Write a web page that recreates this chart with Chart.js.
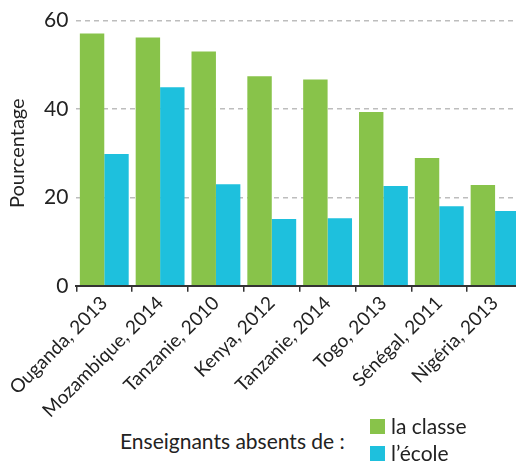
<!DOCTYPE html>
<html>
<head>
<meta charset="utf-8">
<script src="https://cdn.jsdelivr.net/npm/chart.js@4"></script>
<style>
  html, body { margin: 0; padding: 0; background: #fff; overflow: hidden; width: 516px; height: 466px; }
  #wrap { position: relative; width: 525px; height: 422px; }
  #legende { position: absolute; left: 120px; top: 414px; font-family: Lato, sans-serif; font-size: 21px; color: #222; }
  #legende .titre { position: absolute; left: 0; top: 14px; white-space: nowrap; }
  #legende .item { position: absolute; left: 250px; white-space: nowrap; line-height: 24px; }
  #legende .item span { display: inline-block; width: 15px; height: 15px; margin-right: 6px; vertical-align: 0px; }
</style>
</head>
<body>
<div id="wrap"><canvas id="graphique" width="525" height="422"></canvas></div>
<div id="legende"></div>
<script>
// Données
const pays = ['Ouganda, 2013', 'Mozambique, 2014', 'Tanzanie, 2010', 'Kenya, 2012', 'Tanzanie, 2014', 'Togo, 2013', 'Sénégal, 2011', 'Nigéria, 2013'];
const absentsClasse = [57.1, 56.2, 53.0, 47.4, 46.7, 39.3, 28.9, 22.8];
const absentsEcole = [29.8, 44.9, 23.0, 15.1, 15.3, 22.6, 18.0, 16.9];
const ticksY = [0, 20, 40, 60];

const vert = '#88c34a';
const bleu = '#1ec0dd';
const police = 'Lato, sans-serif';

// Légende HTML
const legende = document.getElementById('legende');
legende.innerHTML = `
  <div class="titre">Enseignants absents de :</div>
  <div class="item" style="top:0px"><span style="background:${vert}"></span>la classe</div>
  <div class="item" style="top:27px"><span style="background:${bleu}"></span>l’école</div>
`;

const ctx = document.getElementById('graphique').getContext('2d');
new Chart(ctx, {
  type: 'bar',
  data: {
    labels: pays,
    datasets: [
      { label: 'la classe', data: absentsClasse, backgroundColor: vert },
      { label: 'l’école', data: absentsEcole, backgroundColor: bleu }
    ]
  },
  options: {
    responsive: false,
    animation: false,
    categoryPercentage: 0.875,
    barPercentage: 1,
    layout: { padding: { top: 9, right: 2, left: 2, bottom: 0 } },
    plugins: {
      legend: { display: false },
      tooltip: { enabled: false }
    },
    scales: {
      x: {
        grid: { display: true, drawOnChartArea: false, drawTicks: true, tickLength: 6, color: '#333', lineWidth: 1.5 },
        border: { display: true, color: '#333', width: 2 },
        ticks: { color: '#222', font: { family: police, size: 19 }, maxRotation: 45, minRotation: 45, padding: 0, autoSkip: false }
      },
      y: {
        min: 0,
        max: 60,
        afterBuildTicks: axis => { axis.ticks = ticksY.map(v => ({ value: v })); },
        grid: {
          drawTicks: false,
          color: c => c.tick && c.tick.value === 0 ? 'rgba(0,0,0,0)' : '#bdbdbd',
          lineWidth: 1.5
        },
        border: { display: false, dash: [5, 4] },
        ticks: { color: '#222', font: { family: police, size: 21 }, padding: 8 },
        title: { display: true, text: 'Pourcentage', color: '#222', font: { family: police, size: 20 }, padding: { bottom: 6 } }
      }
    }
  }
});
</script>
</body>
</html>
